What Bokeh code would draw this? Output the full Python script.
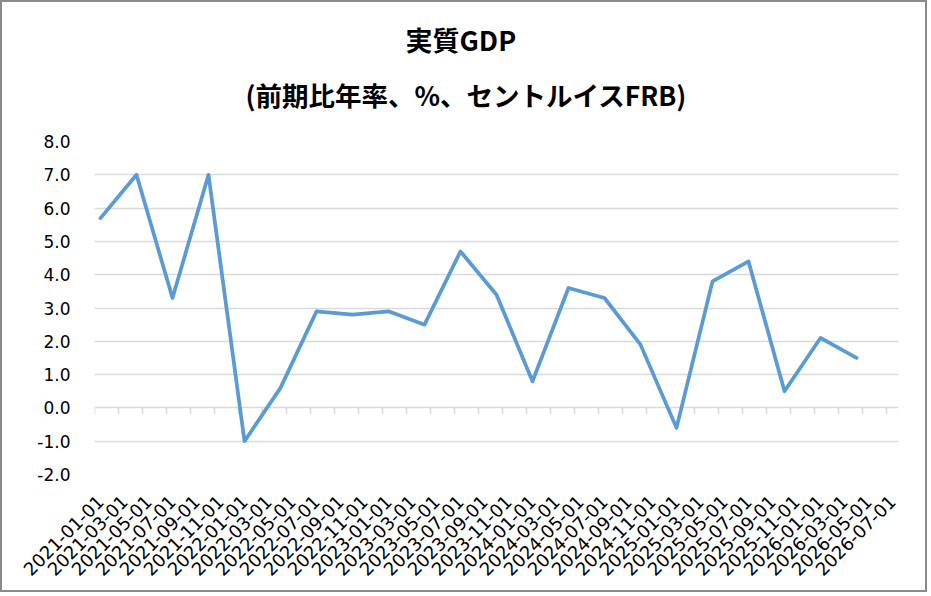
import math
from bokeh.plotting import figure
from bokeh.models import FixedTicker, NumeralTickFormatter, Range1d, Title
from bokeh.embed import file_html
from bokeh.resources import INLINE

# ---- data ----
dates = ["2021-01-01", "2021-04-01", "2021-07-01", "2021-10-01",
         "2022-01-01", "2022-04-01", "2022-07-01", "2022-10-01",
         "2023-01-01", "2023-04-01", "2023-07-01", "2023-10-01",
         "2024-01-01", "2024-04-01", "2024-07-01", "2024-10-01",
         "2025-01-01", "2025-04-01", "2025-07-01", "2025-10-01",
         "2026-01-01", "2026-04-01"]
gdp = [5.7, 7.0, 3.3, 7.0,
       -1.0, 0.6, 2.9, 2.8,
       2.9, 2.5, 4.7, 3.4,
       0.8, 3.6, 3.3, 1.9,
       -0.6, 3.8, 4.4, 0.5,
       2.1, 1.5]
tick_labels = ["2021-01-01", "2021-03-01", "2021-05-01", "2021-07-01", "2021-09-01", "2021-11-01",
               "2022-01-01", "2022-03-01", "2022-05-01", "2022-07-01", "2022-09-01", "2022-11-01",
               "2023-01-01", "2023-03-01", "2023-05-01", "2023-07-01", "2023-09-01", "2023-11-01",
               "2024-01-01", "2024-03-01", "2024-05-01", "2024-07-01", "2024-09-01", "2024-11-01",
               "2025-01-01", "2025-03-01", "2025-05-01", "2025-07-01", "2025-09-01", "2025-11-01",
               "2026-01-01", "2026-03-01", "2026-05-01", "2026-07-01"]
y_ticks = [-2, -1, 0, 1, 2, 3, 4, 5, 6, 7, 8]
title1 = "実質GDP"
title2 = "(前期比年率、%、セントルイスFRB)"

BASE_YEAR = 2021


def month_index(s):
    y, m, _ = s.split("-")
    return (int(y) - BASE_YEAR) * 12 + int(m) - 1


# points and labels sit in the middle of their month (Excel date axis, month base unit)
xs = [month_index(d) + 0.5 for d in dates]
tick_pos = [month_index(t) for t in tick_labels]
label_pos = [t + 0.5 for t in tick_pos]

p = figure(width=927, height=592, output_backend="svg", toolbar_location=None,
           x_range=Range1d(0, tick_pos[-1] + 1), y_range=Range1d(y_ticks[0], y_ticks[-1]),
           min_border_left=92, min_border_right=31, min_border_bottom=120, min_border_top=0)
p.styles = {"border": "2px solid #8a8a8a"}
p.background_fill_color = "white"
p.border_fill_color = "white"
p.outline_line_color = None
p.title.visible = False

# panels above the frame, listed from the frame upwards
p.add_layout(Title(text=" ", text_font_size="1px", standoff=24), "above")      # gap above frame
p.add_layout(Title(text=title2, align="left", offset=151, text_font="Noto Sans CJK JP",
                   text_font_size="26.5px", text_font_style="bold", text_color="#000000",
                   standoff=2), "above")
p.add_layout(Title(text=title1, align="left", offset=311, text_font="Noto Sans CJK JP",
                   text_font_size="27px", text_font_style="bold", text_color="#000000",
                   standoff=25), "above")
p.add_layout(Title(text=" ", text_font_size="1px", standoff=0), "above")       # top strip

# y axis
p.yaxis.ticker = FixedTicker(ticks=y_ticks)
p.yaxis.formatter = NumeralTickFormatter(format="0.0")
p.yaxis.axis_line_color = None
p.yaxis.major_tick_line_color = None
p.yaxis.minor_tick_line_color = None
p.yaxis.major_label_standoff = 18
p.yaxis.major_label_text_font = "DejaVu Sans"
p.yaxis.major_label_text_font_size = "17px"
p.yaxis.major_label_text_color = "#000000"

# x axis (labels at the bottom, centred on their month)
xaxis = p.below[0]
xaxis.ticker = FixedTicker(ticks=label_pos)
xaxis.major_label_overrides = {t: lab for t, lab in zip(label_pos, tick_labels)}
xaxis.major_label_orientation = math.pi / 4
xaxis.axis_line_color = None
xaxis.major_tick_line_color = None
xaxis.minor_tick_line_color = None
xaxis.major_label_standoff = 18
xaxis.major_label_text_font = "DejaVu Sans"
xaxis.major_label_text_font_size = "18px"
xaxis.major_label_text_color = "#000000"

p.xgrid.grid_line_color = None
p.ygrid.ticker = FixedTicker(ticks=y_ticks)
p.ygrid.grid_line_color = "#d9d9d9"
p.ygrid.grid_line_width = 1.5

# tick marks on the zero line (at month boundaries)
p.ray(x=tick_pos, y=[0] * len(tick_pos), length=6, length_units="screen",
      angle=-math.pi / 2, line_color="#d9d9d9", line_width=1.5)

p.line(xs, gdp, line_color="#5b9bd5", line_width=3.75, line_join="round", line_cap="round")

open("out.html", "w").write(file_html(p, INLINE))
